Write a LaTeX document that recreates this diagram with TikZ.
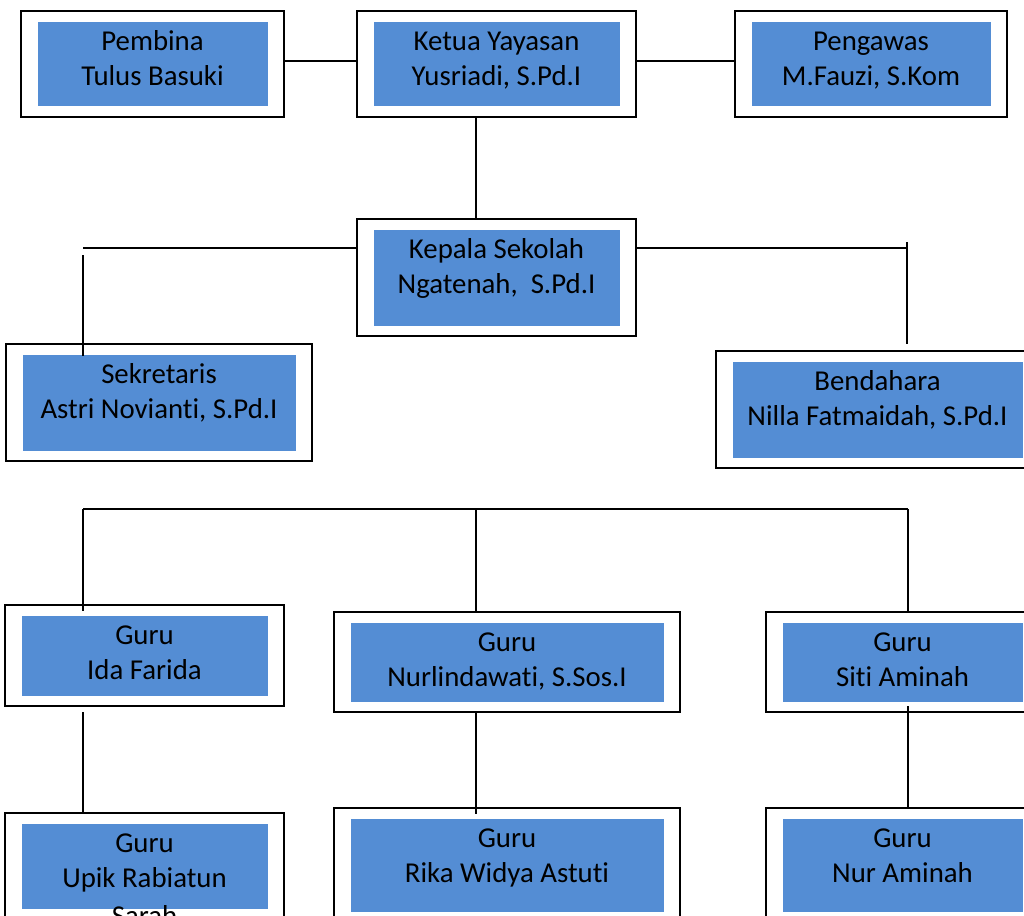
\documentclass[tikz,border=0pt]{standalone}
\usepackage{fontspec}
\setmainfont[Ligatures=NoCommon]{Carlito}
\definecolor{boxblue}{RGB}{84,141,212}
\tikzset{
  outerbox/.style={draw=black, line width=2pt, fill=white, anchor=north west, inner sep=0pt, outer sep=0pt},
  innerbox/.style={fill=boxblue, anchor=north west, inner sep=0pt, outer sep=0pt},
  boxtext/.style={anchor=north, align=center, inner sep=0pt, text=black, font=\fontsize{28.8}{35}\selectfont},
  link/.style={line width=2pt, draw=black}
}
\newcommand\orgbox[6]{%
  \node[outerbox, minimum width={#4-#2}, minimum height={#5-#3}] (#1) at (#2,#3) {};
  \node[innerbox, minimum width={#4-#2-33}, minimum height={#5-#3-21.5}] (#1-in) at (#2+16.5,#3+11) {};
  \node[boxtext] (#1-txt) at ({(#2+#4)/2},#3+15) {\rule{0pt}{24pt}#6};
}
\begin{document}
\begin{tikzpicture}[x=1pt,y=-1pt]
\useasboundingbox (0,0) rectangle (1024,915);
\clip (0,0) rectangle (1024,915);
\fill[white] (0,0) rectangle (1024,915);

\orgbox{pembina}{21}{11}{284}{117}{Pembina\\Tulus Basuki}
\orgbox{ketua}{357}{11}{636}{117}{Ketua Yayasan\\Yusriadi, S.Pd.I}
\orgbox{pengawas}{735}{11}{1007}{117}{Pengawas\\M.Fauzi, S.Kom}
\orgbox{kepala}{357}{219}{636}{336}{Kepala Sekolah\\Ngatenah,\ \ S.Pd.I}
\orgbox{sekretaris}{6}{344}{312}{461}{Sekretaris\\Astri Novianti, S.Pd.I}
\orgbox{bendahara}{716}{351}{1039}{468}{Bendahara\\Nilla Fatmaidah, S.Pd.I}
\orgbox{guruA}{5}{605}{284}{706}{Guru\\Ida Farida}
\orgbox{guruB}{334}{612}{680}{712}{Guru\\Nurlindawati, S.Sos.I}
\orgbox{guruC}{766}{612}{1039}{712}{Guru\\Siti Aminah}
\orgbox{guruD}{5}{813}{284}{919}{Guru\\Upik Rabiatun\\[3pt]Sarah}
\orgbox{guruE}{334}{808}{680}{922}{Guru\\Rika Widya Astuti}
\orgbox{guruF}{766}{808}{1039}{922}{Guru\\Nur Aminah}

% named points
\coordinate (topY) at (0,61);
\coordinate (midX) at (476,0);
\coordinate (kL) at (83,248);
\coordinate (kR) at (907,248);
\coordinate (sTop) at (83,255);
\coordinate (sEnd) at (83,356);
\coordinate (bTop) at (907,242);
\coordinate (bEnd) at (907,344);
\coordinate (gL) at (83,509);
\coordinate (gM) at (476,509);
\coordinate (gR) at (908,509);
\coordinate (gAend) at (83,611);
\coordinate (gBend) at (476,612);
\coordinate (gCend) at (908,612);
\coordinate (dTop) at (83,712);
\coordinate (eTop) at (476,712);
\coordinate (eEnd) at (476,814);
\coordinate (fTop) at (908,706);

\draw[link] (pembina.east |- topY) -- (ketua.west |- topY);
\draw[link] (ketua.east |- topY) -- (pengawas.west |- topY);
\draw[link] (ketua.south -| midX) -- (kepala.north -| midX);
\draw[link] (kepala.west |- kL) -- (kL);
\draw[link] (sTop) -- (sEnd);
\draw[link] (kepala.east |- kR) -- (kR);
\draw[link] (bTop) -- (bEnd);
\draw[link] (gL) -- (gR);
\draw[link] (gL) -- (gAend);
\draw[link] (gM) -- (gBend);
\draw[link] (gR) -- (gCend);
\draw[link] (dTop) -- (guruD.north -| dTop);
\draw[link] (eTop) -- (eEnd);
\draw[link] (fTop) -- (guruF.north -| fTop);
\end{tikzpicture}
\end{document}
